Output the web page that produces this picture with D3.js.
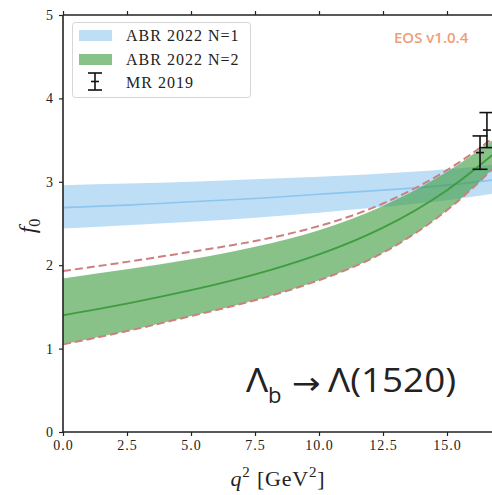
<!DOCTYPE html>
<html>
<head>
<meta charset="utf-8">
<style>
    body { margin: 0; background: #fff; }
    svg { display: block; }
    .axis text { font-family: "Liberation Serif", serif; font-size: 14px; fill: #222; letter-spacing: 1px; }
    .axis line, .axis path { stroke: #222; }
</style>
</head>
<body>
<svg width="492" height="495"></svg>
<script src="https://d3js.org/d3.v7.min.js"></script>
<script>
    let q2 = [0, 2.5, 5, 7.5, 10, 12.5, 15, 17];

    // ABR 2022 N=1
    let n1Mid = [2.69, 2.72, 2.76, 2.80, 2.85, 2.90, 2.96, 3.03];
    let n1Hi  = [2.96, 2.98, 3.00, 3.03, 3.06, 3.10, 3.15, 3.21];
    let n1Lo  = [2.44, 2.48, 2.52, 2.57, 2.63, 2.70, 2.78, 2.87];

    // ABR 2022 N=2
    let n2Mid = [1.40, 1.54, 1.70, 1.89, 2.13, 2.45, 2.90, 3.38];
    let n2Hi  = [1.84, 1.95, 2.07, 2.22, 2.42, 2.71, 3.12, 3.55];
    let n2Lo  = [1.05, 1.21, 1.39, 1.58, 1.82, 2.15, 2.66, 3.22];

    // dashed envelope
    let dashHi = [1.93, 2.04, 2.16, 2.29, 2.47, 2.74, 3.14, 3.57];
    let dashLo = [1.05, 1.21, 1.39, 1.58, 1.82, 2.15, 2.66, 3.22];

    // MR 2019
    let mrQ2  = [16.29, 16.56];
    let mrVal = [3.35, 3.62];
    let mrErr = [0.20, 0.21];

    let xTicks = [0, 2.5, 5, 7.5, 10, 12.5, 15];
    let yTicks = [0, 1, 2, 3, 4, 5];

    let width = 492, height = 495;
    let margin = { top: 15, left: 63, bottom: 63 };
    let svg = d3.select("svg");

    let x = d3.scaleLinear().domain([0, 17]).range([margin.left, margin.left + 25.6 * 17]);
    let y = d3.scaleLinear().domain([0, 5]).range([height - margin.bottom, margin.top]);

    svg.append("clipPath").attr("id", "plot")
        .append("rect")
        .attr("x", x(0)).attr("y", y(5))
        .attr("width", x(17) - x(0)).attr("height", y(0) - y(5));

    let g = svg.append("g").attr("clip-path", "url(#plot)");

    function band(lo, hi) {
        return d3.area()
            .x((d, i) => x(q2[i]))
            .y0((d, i) => y(lo[i]))
            .y1((d, i) => y(hi[i]))
            .curve(d3.curveNatural)(q2);
    }
    function line(v) {
        return d3.line()
            .x((d, i) => x(q2[i]))
            .y((d, i) => y(v[i]))
            .curve(d3.curveNatural)(q2);
    }

    g.append("path").attr("d", band(n1Lo, n1Hi))
        .attr("fill", "#5dade8").attr("fill-opacity", 0.4);
    g.append("path").attr("d", line(n1Mid))
        .attr("fill", "none").attr("stroke", "#8cc6ee").attr("stroke-width", 1.6);

    g.append("path").attr("d", band(n2Lo, n2Hi))
        .attr("fill", "#3a9a3a").attr("fill-opacity", 0.6);
    g.append("path").attr("d", line(n2Mid))
        .attr("fill", "none").attr("stroke", "#3f9c3f").attr("stroke-width", 1.8);

    [dashHi, dashLo].forEach(v => {
        g.append("path").attr("d", line(v))
            .attr("fill", "none").attr("stroke", "#cd7f7f")
            .attr("stroke-width", 2).attr("stroke-dasharray", "8,4");
    });

    // error bars
    let eb = g.append("g").attr("stroke", "#111").attr("stroke-width", 1.6);
    mrQ2.forEach((q, i) => {
        let cx = x(q);
        eb.append("line").attr("x1", cx).attr("x2", cx)
            .attr("y1", y(mrVal[i] - mrErr[i])).attr("y2", y(mrVal[i] + mrErr[i]));
        [mrVal[i] - mrErr[i], mrVal[i] + mrErr[i]].forEach(v => {
            eb.append("line").attr("x1", cx - 7.5).attr("x2", cx + 7.5)
                .attr("y1", y(v)).attr("y2", y(v));
        });
        eb.append("line").attr("x1", cx - 4).attr("x2", cx + 4)
            .attr("y1", y(mrVal[i])).attr("y2", y(mrVal[i]));
    });

    // axes
    let xAxis = svg.append("g").attr("class", "axis")
        .attr("transform", `translate(0,${y(0)})`)
        .call(d3.axisBottom(x).tickValues(xTicks).tickSize(4).tickPadding(4)
            .tickFormat(d3.format(".1f")));
    let xTop = svg.append("g").attr("class", "axis")
        .attr("transform", `translate(0,${y(5)})`)
        .call(d3.axisTop(x).tickValues(xTicks).tickSize(4).tickFormat(""));
    let yAxis = svg.append("g").attr("class", "axis")
        .attr("transform", `translate(${x(0)},0)`)
        .call(d3.axisLeft(y).tickValues(yTicks).tickSize(4).tickPadding(5)
            .tickFormat(d3.format("d")));
    [xAxis, xTop, yAxis].forEach(a => {
        a.selectAll(".domain").attr("stroke-width", 1.6);
        a.selectAll(".tick line").attr("stroke-width", 1.2);
    });
    xAxis.selectAll(".domain").attr("d", `M${x(0)},0H${x(17)}`);
    xTop.selectAll(".domain").attr("d", `M${x(0)},0H${x(17)}`);
    yAxis.selectAll(".domain").attr("d", `M0,${y(0)}V${y(5)}`);

    // axis labels
    let xl = svg.append("text")
        .attr("x", 278).attr("y", 486)
        .attr("text-anchor", "middle")
        .attr("font-family", "Liberation Serif, serif")
        .attr("letter-spacing", 0.8)
        .attr("font-size", 22).attr("fill", "#222");
    xl.append("tspan").attr("font-style", "italic").text("q");
    xl.append("tspan").attr("font-size", 15).attr("dy", -9).text("2");
    xl.append("tspan").attr("dy", 9).text(" [GeV");
    xl.append("tspan").attr("font-size", 15).attr("dy", -9).text("2");
    xl.append("tspan").attr("dy", 9).text("]");

    let yl = svg.append("text")
        .attr("transform", "translate(35,226) rotate(-90)")
        .attr("text-anchor", "middle")
        .attr("font-family", "Liberation Serif, serif")
        .attr("font-size", 24).attr("fill", "#222");
    yl.append("tspan").attr("font-style", "italic").text("f");
    yl.append("tspan").attr("font-size", 16).attr("dy", 5).text("0");

    // legend
    let lg = svg.append("g");
    lg.append("rect").attr("x", 72.5).attr("y", 22.5).attr("width", 178).attr("height", 75)
        .attr("rx", 3).attr("fill", "#fff").attr("fill-opacity", 0.85)
        .attr("stroke", "#d6d6d6");
    lg.append("rect").attr("x", 79).attr("y", 30).attr("width", 33).attr("height", 11)
        .attr("fill", "#5dade8").attr("fill-opacity", 0.4);
    lg.append("rect").attr("x", 79).attr("y", 54).attr("width", 33).attr("height", 11)
        .attr("fill", "#3a9a3a").attr("fill-opacity", 0.6);
    let ls = lg.append("g").attr("stroke", "#111").attr("stroke-width", 1.6);
    ls.append("line").attr("x1", 95).attr("x2", 95).attr("y1", 73).attr("y2", 90);
    ls.append("line").attr("x1", 88).attr("x2", 102).attr("y1", 73).attr("y2", 73);
    ls.append("line").attr("x1", 88).attr("x2", 102).attr("y1", 90).attr("y2", 90);
    ls.append("line").attr("x1", 91).attr("x2", 99).attr("y1", 81.5).attr("y2", 81.5);
    ["ABR 2022 N=1", "ABR 2022 N=2", "MR 2019"].forEach((t, i) => {
        lg.append("text").attr("x", 126).attr("y", 41 + i * 23.5)
            .attr("font-family", "Liberation Serif, serif")
            .attr("letter-spacing", 1)
            .attr("font-size", 16).attr("fill", "#222").text(t);
    });

    // annotations
    svg.append("text").attr("x", 394).attr("y", 43)
        .attr("font-family", "Open Sans, sans-serif").attr("font-weight", 600)
        .attr("font-size", 15).attr("fill", "#f09d7a")
        .text("EOS v1.0.4");

    svg.append("text").attr("transform", "translate(246,392) scale(1.15,1)")
        .attr("font-family", "Open Sans, sans-serif")
        .attr("font-size", 32).attr("fill", "#222").text("Λ");
    svg.append("text").attr("x", 268).attr("y", 403)
        .attr("font-family", "Open Sans, sans-serif")
        .attr("font-size", 22).attr("fill", "#222").text("b");
    svg.append("text").attr("transform", "translate(306,394) scale(1.1,1)")
        .attr("text-anchor", "middle")
        .attr("font-family", "DejaVu Sans, sans-serif")
        .attr("font-size", 31).attr("fill", "#222").text("→");
    svg.append("text").attr("transform", "translate(328,392) scale(1.15,1)")
        .attr("font-family", "Open Sans, sans-serif")
        .attr("font-size", 32).attr("fill", "#222").text("Λ(1520)");
</script>
</body>
</html>
